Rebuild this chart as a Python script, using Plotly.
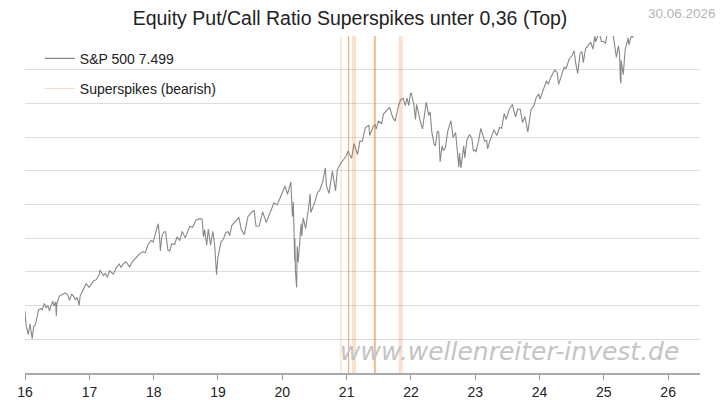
import math
import plotly.graph_objects as go

# ---------------- data ----------------
spx_dates = [
    "2015-12-31","2016-01-08","2016-01-20","2016-01-29","2016-02-11","2016-02-19","2016-02-29","2016-03-10","2016-03-18","2016-03-31",
    "2016-04-08","2016-04-20","2016-04-29","2016-05-10","2016-05-19","2016-05-31","2016-06-08","2016-06-13","2016-06-23","2016-06-27",
    "2016-06-30","2016-07-14","2016-07-29","2016-08-15","2016-08-31","2016-09-09","2016-09-22","2016-09-30","2016-10-13","2016-10-24",
    "2016-11-04","2016-11-09","2016-11-25","2016-12-13","2016-12-30",
    "2017-01-13","2017-01-26","2017-02-09","2017-02-28","2017-03-01","2017-03-21","2017-03-31","2017-04-13","2017-04-25","2017-05-17",
    "2017-05-31","2017-06-19","2017-06-29","2017-07-14","2017-07-27","2017-08-10","2017-08-18","2017-08-31","2017-09-15","2017-09-29",
    "2017-10-13","2017-10-31","2017-11-15","2017-11-30","2017-12-18","2017-12-29",
    "2018-01-12","2018-01-26","2018-02-02","2018-02-08","2018-02-16","2018-02-26","2018-03-09","2018-03-23","2018-04-02","2018-04-13",
    "2018-04-30","2018-05-14","2018-05-29","2018-06-12","2018-06-29","2018-07-16","2018-07-25","2018-08-10","2018-08-29","2018-09-20",
    "2018-10-03","2018-10-11","2018-10-17","2018-10-29","2018-11-07","2018-11-20","2018-12-03","2018-12-13","2018-12-24","2018-12-31",
    "2019-01-18","2019-01-31","2019-02-15","2019-02-28","2019-03-08","2019-03-21","2019-04-15","2019-04-30","2019-05-13","2019-05-31",
    "2019-06-20","2019-07-15","2019-07-26","2019-08-05","2019-08-23","2019-09-12","2019-10-02","2019-10-31","2019-11-15","2019-12-03",
    "2019-12-31",
    "2020-01-17","2020-01-31","2020-02-19","2020-02-28","2020-03-04","2020-03-12","2020-03-13","2020-03-16","2020-03-23","2020-03-26",
    "2020-04-01","2020-04-17","2020-04-21","2020-04-29","2020-05-13","2020-05-29","2020-06-08","2020-06-11","2020-06-30","2020-07-20",
    "2020-07-31","2020-08-18","2020-09-02","2020-09-08","2020-09-23","2020-10-12","2020-10-30","2020-11-09","2020-11-27","2020-12-18",
    "2020-12-31",
    "2021-01-08","2021-01-29","2021-02-12","2021-03-04","2021-03-17","2021-03-31","2021-04-16","2021-05-07","2021-05-12","2021-05-31",
    "2021-06-11","2021-06-18","2021-06-30","2021-07-19","2021-07-29","2021-08-16","2021-08-31","2021-09-02","2021-09-20","2021-10-04",
    "2021-10-21","2021-11-04","2021-11-18","2021-11-30","2021-12-10","2021-12-20","2021-12-29",
    "2022-01-03","2022-01-18","2022-01-27","2022-02-02","2022-02-14","2022-02-24","2022-03-08","2022-03-29","2022-04-12","2022-04-20",
    "2022-04-29","2022-05-12","2022-05-20","2022-05-31","2022-06-08","2022-06-16","2022-06-27","2022-07-05","2022-07-15","2022-07-29",
    "2022-08-16","2022-08-29","2022-09-12","2022-09-22","2022-09-30","2022-10-04","2022-10-12","2022-10-28","2022-11-03","2022-11-15",
    "2022-11-30","2022-12-13","2022-12-22","2022-12-30",
    "2023-01-05","2023-01-20","2023-02-02","2023-02-24","2023-03-07","2023-03-13","2023-03-24","2023-04-18","2023-05-04","2023-05-19",
    "2023-05-31","2023-06-15","2023-06-26","2023-07-14","2023-07-31","2023-08-18","2023-08-31","2023-09-14","2023-09-27","2023-10-11",
    "2023-10-27","2023-11-14","2023-11-30","2023-12-14","2023-12-28",
    "2024-01-04","2024-01-19","2024-02-09","2024-02-21","2024-03-08","2024-03-28","2024-04-11","2024-04-19","2024-05-03","2024-05-21",
    "2024-05-31","2024-06-18","2024-07-05","2024-07-16","2024-07-25","2024-08-05","2024-08-19","2024-08-30","2024-09-06","2024-09-19",
    "2024-10-18","2024-10-31","2024-11-11","2024-11-15","2024-12-06","2024-12-18","2024-12-31",
    "2025-01-10","2025-01-23","2025-01-27","2025-02-19","2025-03-04","2025-03-13","2025-03-25","2025-03-31","2025-04-04","2025-04-08",
    "2025-04-09","2025-04-21","2025-05-02","2025-05-12","2025-05-19","2025-05-23","2025-06-06","2025-06-13","2025-06-30","2025-07-15",
    "2025-07-31","2025-08-15","2025-08-29","2025-09-15","2025-09-30","2025-10-10","2025-10-28","2025-11-20","2025-11-28","2025-12-15",
    "2025-12-31","2026-01-30","2026-02-27","2026-03-31","2026-04-30","2026-05-29","2026-06-30",
]
spx_values = [
    2044,1922,1859,1940,1829,1917,1932,1989,2049,2060,
    2048,2102,2065,2084,2040,2097,2119,2079,2113,2001,
    2099,2163,2174,2190,2171,2128,2177,2168,2133,2151,
    2085,2163,2213,2271,2239,
    2275,2297,2307,2364,2396,2344,2363,2329,2389,2357,
    2412,2453,2419,2459,2475,2438,2426,2472,2500,2519,
    2553,2575,2565,2648,2690,2674,
    2786,2873,2762,2581,2732,2780,2786,2588,2582,2656,
    2648,2730,2689,2787,2718,2798,2846,2833,2914,2931,
    2925,2728,2809,2641,2814,2641,2790,2651,2351,2507,
    2671,2704,2776,2784,2743,2855,2906,2946,2812,2752,
    2954,3014,3026,2845,2847,3009,2888,3038,3120,3093,
    3231,
    3330,3226,3386,2954,3130,2481,2711,2386,2237,2630,
    2471,2875,2737,2939,2820,3044,3232,3002,3100,3251,
    3271,3389,3580,3332,3237,3534,3270,3550,3638,3709,
    3756,
    3825,3714,3934,3768,3974,3973,4185,4233,4063,4204,
    4247,4166,4298,4258,4419,4479,4523,4537,4358,4300,
    4549,4680,4704,4567,4712,4568,4793,
    4797,4577,4326,4589,4401,4288,4170,4632,4397,4459,
    4132,3930,3901,4132,4115,3667,3900,3831,3863,4130,
    4305,4030,4110,3757,3586,3791,3577,3901,3720,3992,
    4080,4019,3822,3840,
    3808,3973,4179,3970,3986,3855,3971,4154,4061,4192,
    4180,4426,4328,4505,4589,4370,4508,4505,4274,4377,
    4117,4496,4568,4719,4783,
    4688,4840,5027,4981,5124,5254,5200,4967,5128,5321,
    5278,5487,5567,5667,5400,5186,5608,5648,5408,5713,
    5864,5705,6001,5870,6090,5872,5882,
    5827,6119,6012,6144,5778,5522,5777,5612,5074,4983,
    5457,5158,5687,5844,5963,5802,6000,5977,6205,6244,
    6339,6450,6460,6615,6688,6552,6890,6538,6849,6816,
    6850,6950,6900,7050,7200,7350,7499,
]

spike_dates = [
    "2020-11-30",
    "2021-01-11","2021-01-12","2021-01-13",
    "2021-02-05","2021-02-12","2021-02-19",
    "2021-06-07","2021-06-09","2021-06-11","2021-06-14",
    "2021-10-27","2021-11-04","2021-11-11",
]

year_ticks = ["2016-01-01","2017-01-01","2018-01-01","2019-01-01","2020-01-01","2021-01-01",
              "2022-01-01","2023-01-01","2024-01-01","2025-01-01","2026-01-01"]
year_labels = ["16","17","18","19","20","21","22","23","24","25","26"]

TITLE = "Equity Put/Call Ratio Superspikes unter 0,36 (Top)"
DATE_LABEL = "30.06.2026"
WATERMARK = "www.wellenreiter-invest.de"

# ---------------- layout constants ----------------
Y_LO, Y_HI = 1599, 6005
lo, hi = math.log10(Y_LO), math.log10(Y_HI)
grid_vals = [10 ** (lo + k * (hi - lo) / 10) for k in range(11)]

fig = go.Figure()
fig.add_trace(go.Scatter(
    x=spx_dates, y=spx_values, mode="lines",
    name="S&P 500 7.499",
    line=dict(color="#888888", width=1.1),
    legendgroup="a", legendrank=1,
))
for i, d in enumerate(spike_dates):
    fig.add_trace(go.Scatter(
        x=[d, d], y=[Y_LO, Y_HI], mode="lines",
        name="Superspikes (bearish)",
        line=dict(color="#f07a30", width=1),
        opacity=0.3,
        showlegend=(i == 0), legendgroup="b", legendrank=2,
        hoverinfo="skip",
    ))

fig.update_layout(
    width=724, height=400,
    margin=dict(l=25, r=24, t=36, b=27, autoexpand=False),
    paper_bgcolor="white", plot_bgcolor="white",
    font=dict(family="Liberation Sans, Arial, sans-serif", color="#222222"),
    title=dict(text=TITLE, x=350 / 724, xanchor="center", xref="container",
               y=1 - 18 / 400, yanchor="middle", yref="container",
               font=dict(size=19.5, color="#222222")),
    showlegend=True,
    legend=dict(x=0.022, y=0.98, xanchor="left", yanchor="top",
                bgcolor="rgba(0,0,0,0)", font=dict(size=14, color="#222222"),
                tracegroupgap=9, traceorder="grouped"),
    xaxis=dict(
        type="date", range=["2016-01-01", "2026-07-01"],
        tickvals=year_ticks, ticktext=year_labels,
        ticks="outside", ticklen=5, tickcolor="#999999",
        showline=True, linecolor="#aaaaaa", linewidth=1.5,
        showgrid=False, zeroline=False,
        tickfont=dict(size=14, color="#222222"),
    ),
    yaxis=dict(
        type="log", range=[lo, hi],
        tickvals=grid_vals, showticklabels=False,
        showgrid=True, gridcolor="#dddddd", gridwidth=1,
        zeroline=False, showline=False, ticks="",
    ),
)

fig.add_annotation(text=DATE_LABEL, xref="paper", yref="paper",
                   x=1.0 + 18 / 675, y=1 + 22 / 337, xanchor="right", yanchor="middle",
                   showarrow=False, font=dict(size=13.5, color="#b4b4b4"))
fig.add_annotation(text=f"<i>{WATERMARK}</i>", xref="paper", yref="paper",
                   x=(509 - 25) / 675, y=(373 - 351) / 337, xanchor="center", yanchor="middle",
                   showarrow=False,
                   font=dict(size=25, color="#c4c4c4", family="DejaVu Sans, Verdana, sans-serif"))

fig.write_html("out.html", config={"displayModeBar": False},
               post_script="document.body.style.margin='0';")
